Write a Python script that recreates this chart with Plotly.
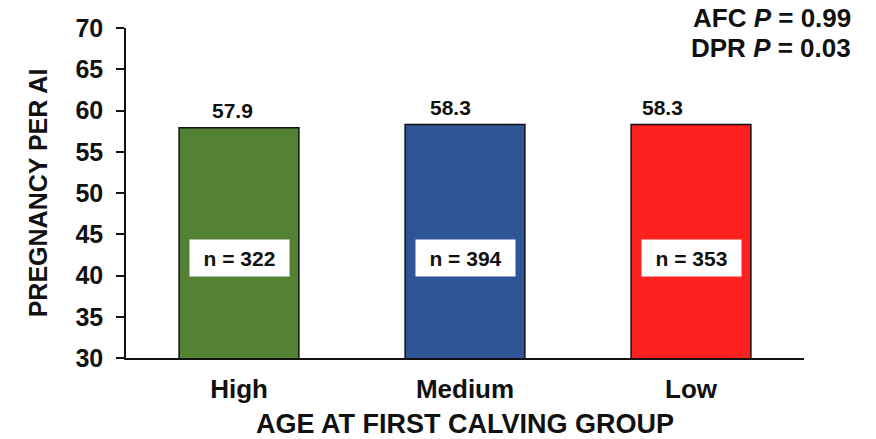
import plotly.graph_objects as go

categories = ["High", "Medium", "Low"]
pregnancy_per_ai = [57.9, 58.3, 58.3]
n_values = [322, 394, 353]
bar_colors = ["#548235", "#2F5597", "#FF2020"]
y_ticks = [30, 35, 40, 45, 50, 55, 60, 65, 70]
p_lines = [("AFC", "0.99"), ("DPR", "0.03")]

# styling: horizontal nudges (px) of the value labels, as placed in the original
label_xshift = [-7, -15, -29]

FONT = "Liberation Sans, Arial, sans-serif"
INK = "#111111"

fig = go.Figure()
fig.add_trace(go.Bar(
    x=categories,
    y=pregnancy_per_ai,
    base=0,
    width=0.53,
    marker=dict(color=bar_colors, line=dict(color=INK, width=1.5)),
    hoverinfo="skip",
))

annotations = []
for c, v, dx in zip(categories, pregnancy_per_ai, label_xshift):
    annotations.append(dict(
        x=c, y=v, xref="x", yref="y", yanchor="bottom", yshift=4, xshift=dx,
        text=f"<b>{v:.1f}</b>", showarrow=False,
        font=dict(family=FONT, size=21, color=INK),
    ))

for c, n in zip(categories, n_values):
    annotations.append(dict(
        x=c, y=42.1, xref="x", yref="y",
        text=f"<b>n = {n}</b>", showarrow=False,
        font=dict(family=FONT, size=21, color=INK),
        bgcolor="white", width=97, height=34,
    ))

plot_l, plot_r, plot_t, plot_b = 126, 804, 28, 358
for i, (lab, p) in enumerate(p_lines):
    px, py = 853, 18 + i * 30
    annotations.append(dict(
        x=(px - plot_l) / (plot_r - plot_l), y=(plot_b - py) / (plot_b - plot_t),
        xref="paper", yref="paper", xanchor="right", yanchor="middle",
        text=f"<b>{lab} <i>P</i> = {p}</b>", showarrow=False,
        font=dict(family=FONT, size=26, color=INK),
    ))

fig.update_layout(
    width=876, height=439,
    margin=dict(l=plot_l, r=876 - plot_r, t=plot_t, b=439 - plot_b),
    paper_bgcolor="white", plot_bgcolor="white",
    showlegend=False,
    annotations=annotations,
    xaxis=dict(
        automargin=False,
        showline=True, linecolor=INK, linewidth=1.5,
        ticks="", showgrid=False,
        tickfont=dict(family=FONT, size=26, color=INK, weight="bold"),
        ticklabelstandoff=7,
        title=dict(text="<b>AGE AT FIRST CALVING GROUP</b>",
                   font=dict(family=FONT, size=27, color=INK), standoff=14),
    ),
    yaxis=dict(
        automargin=False,
        range=[30, 70], tickvals=y_ticks,
        showline=True, linecolor=INK, linewidth=1.5,
        ticks="outside", ticklen=8, tickwidth=1.5, tickcolor=INK,
        showgrid=False, zeroline=False,
        tickfont=dict(family=FONT, size=25, color=INK, weight="bold"),
        ticklabelstandoff=8,
        title=dict(text="<b>PREGNANCY PER AI</b>",
                   font=dict(family=FONT, size=25, color=INK), standoff=21),
    ),
)

fig.write_html(
    "out.html",
    config={"displayModeBar": False},
    post_script="document.body.style.margin='0';document.body.style.overflow='hidden';",
)
